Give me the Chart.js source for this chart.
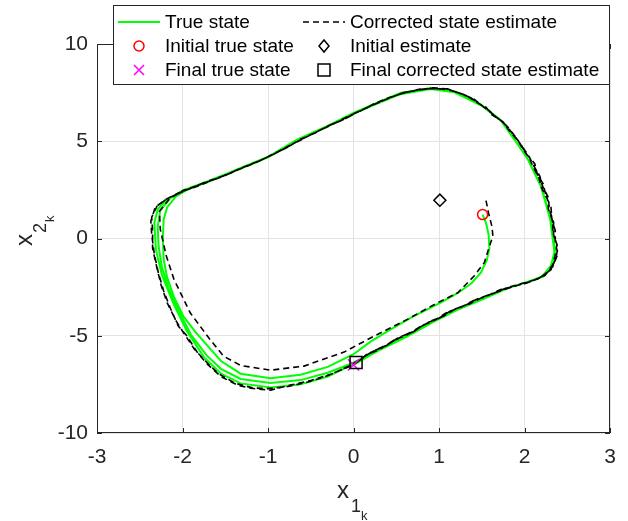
<!DOCTYPE html>
<html>
<head>
<meta charset="utf-8">
<script src="https://cdn.jsdelivr.net/npm/chart.js@4.4.1/dist/chart.umd.min.js"></script>
<style>
  body { margin: 0; background: #fff; }
  canvas { display: block; }
</style>
</head>
<body>
<canvas id="phaseChart" width="628" height="521"></canvas>
<script>
// axis ticks
const xTicks = [-3, -2, -1, 0, 1, 2, 3];
const yTicks = [-10, -5, 0, 5, 10];

// true state trajectory [x1, x2]
const trueState = [
  [1.51,1.23],[1.55,0.8],[1.58,0.2],[1.59,-0.5],[1.56,-1.1],[1.49,-1.76],[1.38,-2.3],[1.22,-2.8],[1.02,-3.3],
  [0.7,-4.0],[0.43,-4.68],[0.2,-5.3],[0.0,-5.95],[-0.3,-6.6],[-0.62,-7.0],[-0.97,-7.18],[-1.32,-6.95],
  [-1.55,-6.3],[-1.68,-5.65],[-1.85,-4.8],[-1.99,-4.0],[-2.1,-3.0],[-2.18,-2.0],[-2.22,-1.07],[-2.23,0.0],
  [-2.22,0.98],[-2.18,1.6],[-2.08,2.15],[-1.95,2.5],[-1.71,2.9],[-1.32,3.6],[-0.99,4.2],[-0.66,5.05],
  [-0.31,5.75],[0.0,6.42],[0.32,7.02],[0.55,7.42],[0.9,7.68],[1.18,7.52],[1.49,6.85],[1.72,6.08],[1.88,5.1],
  [2.04,4.06],[2.19,2.7],[2.3,1.0],[2.35,-0.7],[2.31,-1.4],[2.2,-1.97],[2.04,-2.22],[1.8,-2.55],[1.49,-3.15],
  [1.22,-3.65],[0.94,-4.25],[0.63,-5.0],[0.31,-5.68],[0.0,-6.38],
  [-0.3,-6.9],[-0.62,-7.28],[-0.97,-7.43],[-1.32,-7.22],[-1.55,-6.7],[-1.72,-6.0],[-1.9,-4.95],[-2.05,-3.7],
  [-2.16,-2.6],[-2.24,-1.5],[-2.28,-0.4],[-2.29,0.6],[-2.26,1.45],[-2.15,2.05],[-1.99,2.48],[-1.71,2.93],
  [-1.32,3.62],[-0.99,4.2],[-0.66,5.07],[-0.31,5.77],[0.0,6.45],[0.32,7.05],[0.55,7.47],[0.9,7.72],
  [1.18,7.56],[1.49,6.88],[1.72,6.1],[1.88,5.12],[2.04,4.08],[2.19,2.72],[2.31,1.0],[2.36,-0.72],
  [2.32,-1.42],[2.22,-1.96],[2.04,-2.22],[1.8,-2.55],[1.49,-3.16],[1.22,-3.66],[0.94,-4.26],[0.63,-5.02],
  [0.31,-5.7],[0.0,-6.45],
  [-0.3,-7.1],[-0.62,-7.5],[-0.97,-7.66],[-1.32,-7.45],[-1.55,-6.95],[-1.75,-6.1],[-1.95,-4.75],[-2.1,-3.4],
  [-2.24,-1.9],[-2.31,-0.6],[-2.33,0.8],[-2.29,1.5],[-2.2,1.95],[-2.02,2.4],[-1.72,2.9],[-1.32,3.63],
  [-0.99,4.22],[-0.66,5.08],[-0.31,5.78],[0.0,6.46],[0.32,7.06],[0.55,7.48],[0.9,7.73],[1.18,7.56],
  [1.49,6.88],[1.72,6.1],[1.88,5.12],[2.04,4.08],[2.19,2.72],[2.31,1.0],[2.36,-0.73],[2.32,-1.42],
  [2.22,-1.96],[2.04,-2.22],[1.8,-2.56],[1.49,-3.16],[1.22,-3.66],[0.94,-4.27],[0.63,-5.03],[0.31,-5.72],
  [0.0,-6.5]
];

// corrected state estimate [x1, x2]
const estimate = [
  [1.55,1.95],[1.58,1.3],[1.62,0.6],[1.63,0.13],[1.59,-0.4],[1.53,-1.24],[1.41,-1.93],[1.22,-2.79],
  [0.98,-3.31],[0.63,-4.16],[0.24,-5.02],[-0.11,-5.84],[-0.58,-6.56],[-0.97,-6.77],[-1.32,-6.53],
  [-1.52,-6.05],[-1.68,-5.18],[-1.91,-3.82],[-2.1,-2.1],[-2.19,-0.89],[-2.26,0.48],[-2.27,1.4],[-2.15,2.05],
  [-1.98,2.5],[-1.85,2.68],[-1.72,2.92],[-1.5,3.25],[-1.3,3.62],[-1.15,3.88],[-1.0,4.2],[-0.8,4.62],
  [-0.62,5.1],[-0.42,5.5],[-0.3,5.78],[-0.12,6.1],[0.02,6.45],[0.2,6.82],[0.35,7.1],[0.55,7.45],[0.72,7.6],
  [0.9,7.72],[1.05,7.68],[1.2,7.55],[1.32,7.35],[1.46,6.95],[1.55,6.75],[1.62,6.35],[1.75,6.0],[1.82,5.55],
  [1.92,5.05],[1.98,4.6],[2.06,4.1],[2.1,3.7],[2.17,3.1],[2.2,2.6],[2.27,2.0],[2.28,1.5],[2.33,0.9],
  [2.33,0.3],[2.38,-0.3],[2.36,-0.85],[2.33,-1.35],[2.24,-1.9],[2.08,-2.2],[1.85,-2.5],[1.72,-2.62],
  [1.55,-2.98],[1.4,-3.2],[1.25,-3.55],[1.1,-3.78],[0.95,-4.2],[0.8,-4.48],[0.63,-4.95],[0.48,-5.2],
  [0.3,-5.72],[0.15,-5.98],[0.0,-6.5],[-0.25,-6.95],[-0.5,-7.3],[-0.75,-7.55],[-0.97,-7.8],[-1.2,-7.7],
  [-1.35,-7.55],[-1.55,-7.1],[-1.7,-6.5],[-1.82,-5.9],[-1.95,-5.0],[-2.05,-4.5],[-2.14,-3.6],[-2.22,-2.7],
  [-2.28,-1.8],[-2.33,-0.8],[-2.36,0.2],[-2.37,0.9],[-2.32,1.6],[-2.2,2.0],[-2.02,2.4],
  [-1.8,2.72],[-1.68,2.95],[-1.48,3.3],[-1.33,3.58],[-1.12,3.95],[-0.98,4.25],[-0.78,4.7],[-0.6,5.12],
  [-0.45,5.42],[-0.28,5.82],[-0.1,6.15],[0.05,6.5],[0.22,6.85],[0.38,7.15],[0.58,7.5],[0.75,7.63],
  [0.92,7.75],[1.08,7.7],[1.22,7.5],[1.35,7.3],[1.48,6.9],[1.58,6.6],[1.68,6.2],[1.78,5.85],[1.86,5.4],
  [1.95,4.9],[2.02,4.35],[2.12,3.85],[2.15,3.3],[2.22,2.8],[2.25,2.2],[2.31,1.6],[2.32,1.0],[2.36,0.4],
  [2.36,-0.2],[2.39,-0.8],[2.33,-1.45],[2.2,-2.0],[2.02,-2.3],[1.88,-2.45],[1.68,-2.75],[1.52,-3.0],
  [1.36,-3.35],[1.2,-3.6],[1.05,-4.0],[0.9,-4.25],[0.75,-4.65],[0.58,-5.0],[0.42,-5.4],[0.25,-5.75],
  [0.1,-6.15],[-0.05,-6.55],[-0.3,-7.05],[-0.55,-7.4],[-0.78,-7.62],[-1.0,-7.72],[-1.18,-7.68],
  [-1.38,-7.45],[-1.58,-6.95],[-1.72,-6.35],[-1.86,-5.7],[-1.98,-4.9],[-2.08,-4.2],[-2.18,-3.3],
  [-2.25,-2.4],[-2.3,-1.5],[-2.35,-0.5],[-2.35,0.4],[-2.36,1.1],[-2.3,1.65],[-2.18,2.05],[-1.98,2.45],
  [-1.75,2.85],[-1.52,3.2],[-1.3,3.65],[-1.1,4.0],[-0.95,4.3],[-0.75,4.75],[-0.58,5.15],[-0.4,5.55],
  [-0.25,5.85],[-0.08,6.25],[0.08,6.55],[0.25,6.95],[0.42,7.25],[0.6,7.5],[0.78,7.68],[0.95,7.7],
  [1.1,7.7],[1.25,7.45],[1.4,7.2],[1.5,6.85],[1.6,6.5],[1.7,6.15],[1.8,5.75],[1.9,5.2],[1.96,4.8],
  [2.05,4.25],[2.1,3.8],[2.18,3.2],[2.21,2.7],[2.28,2.1],[2.29,1.5],[2.34,0.85],[2.34,0.2],[2.39,-0.45],
  [2.37,-1.0],[2.31,-1.6],[2.16,-2.08],[1.98,-2.3],[1.8,-2.52],[1.62,-2.85],[1.46,-3.08],[1.3,-3.45],
  [1.15,-3.68],[1.0,-4.1],[0.85,-4.35],[0.7,-4.8],[0.53,-5.08],[0.38,-5.52],[0.22,-5.8],[0.1,-6.18],
  [0.03,-6.38]
];

// single markers
const initialTrue = [1.51, 1.23];
const initialEstimate = [1.01, 1.97];
const finalTrue = [0.0, -6.5];
const finalEstimate = [0.03, -6.38];

const legendLabels = ['True state', 'Corrected state estimate', 'Initial true state',
  'Initial estimate', 'Final true state', 'Final corrected state estimate'];

const FONT = "'Liberation Sans', Arial, Helvetica, sans-serif";
const AXIS_COLOR = '#262626';

const toPoints = arr => arr.map(p => ({ x: p[0], y: p[1] }));

// marker shapes, matlab-ish
function drawMarker(ctx, kind, x, y) {
  ctx.save();
  ctx.lineWidth = 1.5;
  ctx.beginPath();
  if (kind === 'circle') {
    ctx.strokeStyle = '#ff0000';
    ctx.arc(x, y, 5, 0, Math.PI * 2);
  } else if (kind === 'diamond') {
    ctx.strokeStyle = '#000';
    ctx.moveTo(x, y - 6); ctx.lineTo(x + 5, y); ctx.lineTo(x, y + 6); ctx.lineTo(x - 5, y); ctx.closePath();
  } else if (kind === 'cross') {
    ctx.strokeStyle = '#ff00ff';
    ctx.moveTo(x - 5, y - 5); ctx.lineTo(x + 5, y + 5);
    ctx.moveTo(x + 5, y - 5); ctx.lineTo(x - 5, y + 5);
  } else {
    ctx.strokeStyle = '#000';
    ctx.rect(x - 6, y - 6, 12, 12);
  }
  ctx.stroke();
  ctx.restore();
}

const framePlugin = {
  id: 'frame',
  afterDraw(chart) {
    const { ctx, chartArea: a, scales } = chart;
    ctx.save();

    // box + inward ticks
    ctx.strokeStyle = AXIS_COLOR;
    ctx.lineWidth = 1;
    ctx.strokeRect(a.left + 0.5, a.top + 0.5, a.right - a.left - 1, a.bottom - a.top - 1);
    ctx.beginPath();
    xTicks.forEach(v => {
      const px = Math.round(scales.x.getPixelForValue(v)) + 0.5;
      ctx.moveTo(px, a.bottom); ctx.lineTo(px, a.bottom - 5);
      ctx.moveTo(px, a.top); ctx.lineTo(px, a.top + 5);
    });
    yTicks.forEach(v => {
      const py = Math.round(scales.y.getPixelForValue(v)) + 0.5;
      ctx.moveTo(a.left, py); ctx.lineTo(a.left + 5, py);
      ctx.moveTo(a.right, py); ctx.lineTo(a.right - 5, py);
    });
    ctx.stroke();

    // axis titles with nested subscripts
    ctx.fillStyle = AXIS_COLOR;
    ctx.textBaseline = 'alphabetic';
    ctx.textAlign = 'left';
    ctx.font = '24px ' + FONT;
    ctx.fillText('x', 337, 498);
    ctx.font = '18px ' + FONT;
    ctx.fillText('1', 351, 512);
    ctx.font = '13px ' + FONT;
    ctx.fillText('k', 361, 520);

    ctx.save();
    ctx.rotate(-Math.PI / 2);
    ctx.font = '24px ' + FONT;
    ctx.fillText('x', -246, 32);
    ctx.font = '18px ' + FONT;
    ctx.fillText('2', -233, 46);
    ctx.font = '13px ' + FONT;
    ctx.fillText('k', -222, 54);
    ctx.restore();

    // legend box
    ctx.fillStyle = '#fff';
    ctx.fillRect(113, 5, 496, 79);
    ctx.strokeStyle = AXIS_COLOR;
    ctx.strokeRect(113.5, 5.5, 496, 79);

    const rows = [22, 46, 70];
    const col1 = 118, col2 = 303;
    ctx.lineWidth = 2;
    ctx.strokeStyle = '#00ff00';
    ctx.beginPath(); ctx.moveTo(col1, rows[0]); ctx.lineTo(col1 + 42, rows[0]); ctx.stroke();
    ctx.lineWidth = 1.5;
    ctx.strokeStyle = '#000';
    ctx.setLineDash([6, 4]);
    ctx.beginPath(); ctx.moveTo(col2, rows[0]); ctx.lineTo(col2 + 42, rows[0]); ctx.stroke();
    ctx.setLineDash([]);
    drawMarker(ctx, 'circle', col1 + 21, rows[1]);
    drawMarker(ctx, 'diamond', col2 + 21, rows[1]);
    drawMarker(ctx, 'cross', col1 + 21, rows[2]);
    drawMarker(ctx, 'square', col2 + 21, rows[2]);

    ctx.fillStyle = '#000';
    ctx.font = '19px ' + FONT;
    ctx.textBaseline = 'middle';
    legendLabels.forEach((t, i) => {
      const x = (i % 2 === 0 ? col1 : col2) + 47;
      ctx.fillText(t, x, rows[Math.floor(i / 2)] + 1);
    });

    ctx.restore();
  }
};

const ctx = document.getElementById('phaseChart').getContext('2d');

new Chart(ctx, {
  type: 'scatter',
  data: {
    datasets: [
      {
        label: legendLabels[0], data: toPoints(trueState), showLine: true,
        borderColor: '#00ff00', borderWidth: 2, pointRadius: 0, tension: 0, order: 6
      },
      {
        label: legendLabels[1], data: toPoints(estimate), showLine: true,
        borderColor: '#000000', borderWidth: 1.6, borderDash: [6, 4], pointRadius: 0, tension: 0, order: 5
      },
      {
        label: legendLabels[2], data: toPoints([initialTrue]), pointStyle: 'circle', pointRadius: 5,
        borderColor: '#ff0000', backgroundColor: 'rgba(0,0,0,0)', borderWidth: 1.5, order: 4
      },
      {
        label: legendLabels[3], data: toPoints([initialEstimate]), pointStyle: 'rectRot', pointRadius: 6,
        borderColor: '#000000', backgroundColor: 'rgba(0,0,0,0)', borderWidth: 1.5, order: 3
      },
      {
        label: legendLabels[4], data: toPoints([finalTrue]), pointStyle: 'crossRot', pointRadius: 8,
        borderColor: '#ff00ff', backgroundColor: 'rgba(0,0,0,0)', borderWidth: 1.5, order: 2
      },
      {
        label: legendLabels[5], data: toPoints([finalEstimate]), pointStyle: 'rect', pointRadius: 8.5,
        borderColor: '#000000', backgroundColor: 'rgba(0,0,0,0)', borderWidth: 1.5, order: 1
      }
    ]
  },
  options: {
    responsive: false,
    animation: false,
    layout: { padding: { left: 0, top: 44, right: 18, bottom: 0 } },
    plugins: { legend: { display: false }, tooltip: { enabled: false } },
    scales: {
      x: {
        type: 'linear', min: -3, max: 3,
        afterBuildTicks: s => { s.ticks = xTicks.map(v => ({ value: v })); },
        afterFit: s => { s.height = 88; s.paddingLeft = 0; s.paddingRight = 0; },
        ticks: { callback: v => String(v), color: AXIS_COLOR, padding: 12, font: { family: FONT, size: 21 } },
        grid: { color: '#e3e3e3', drawTicks: false },
        border: { display: false }
      },
      y: {
        type: 'linear', min: -10, max: 10,
        afterBuildTicks: s => { s.ticks = yTicks.map(v => ({ value: v })); },
        afterFit: s => { s.width = 97; s.paddingTop = 0; s.paddingBottom = 0; },
        ticks: { callback: v => String(v), color: AXIS_COLOR, padding: 9, font: { family: FONT, size: 21 } },
        grid: { color: '#e3e3e3', drawTicks: false },
        border: { display: false }
      }
    }
  },
  plugins: [framePlugin]
});
</script>
</body>
</html>
